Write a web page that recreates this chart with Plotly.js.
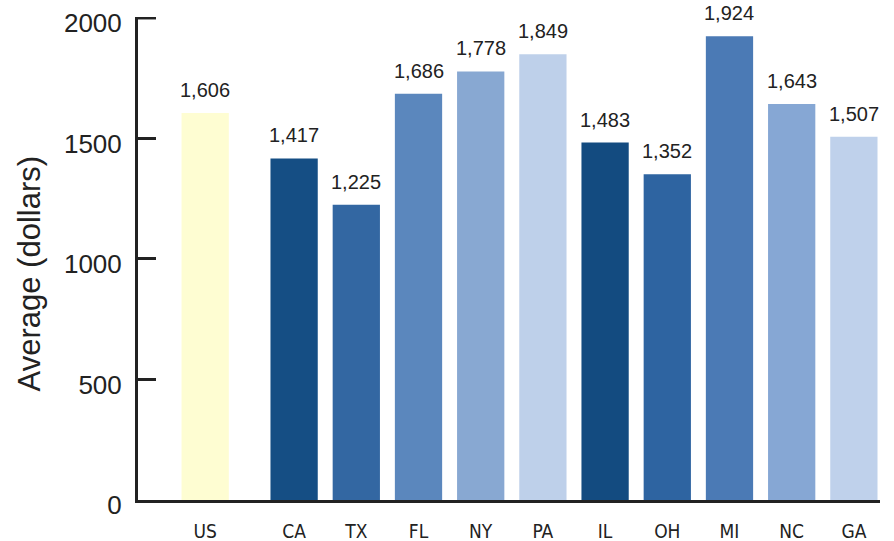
<!DOCTYPE html>
<html>
<head>
<meta charset="utf-8">
<script src="https://cdn.plot.ly/plotly-3.0.1.min.js"></script>
<style>html,body{margin:0;padding:0;background:#fff;}#chart{width:894px;height:541px;}</style>
</head>
<body>
<div id="chart"></div>
<script>
const categories = ["US", "CA", "TX", "FL", "NY", "PA", "IL", "OH", "MI", "NC", "GA"];
const averages = [1606, 1417, 1225, 1686, 1778, 1849, 1483, 1352, 1924, 1643, 1507];
const barColors = ["#fefdd2", "#154e84", "#3367a2", "#5b87bd", "#88a8d2", "#bed0ea",
                   "#134b80", "#2e64a1", "#4b7ab5", "#86a7d4", "#bfd1eb"];
const yTicks = [0, 500, 1000, 1500, 2000];
const yTitle = "Average (dollars)";

// layout: extra gap after the US bar
const GAP = 0.43;
const xPos = categories.map((c, i) => i === 0 ? 0 : i + GAP);
const fmt = v => v.toLocaleString("en-US");
const yMax = yTicks[yTicks.length - 1];

const trace = {
  type: "bar",
  x: xPos,
  y: averages,
  width: 0.76,
  marker: {color: barColors, line: {width: 0}},
  hoverinfo: "skip"
};

const valueLabels = averages.map((v, i) => ({
  x: xPos[i], y: v, xref: "x", yref: "y",
  text: fmt(v), showarrow: false,
  xanchor: "center", yanchor: "bottom", yshift: 10,
  font: {family: "Liberation Sans, Arial, sans-serif", size: 20, color: "#222"}
}));

const layout = {
  width: 894, height: 541,
  margin: {l: 138, r: 14, t: 17, b: 41},
  paper_bgcolor: "#fff", plot_bgcolor: "#fff",
  showlegend: false,
  xaxis: {
    range: [-1.08, 10.85],
    tickvals: xPos,
    ticktext: categories,
    showgrid: false, zeroline: false,
    showline: true, linecolor: "#222", linewidth: 3,
    ticks: "",
    ticklabelstandoff: 12,
    tickfont: {family: "DejaVu Sans Condensed, Liberation Sans Narrow, sans-serif", size: 19, color: "#222"}
  },
  yaxis: {
    range: [0, 2004],
    tickvals: yTicks,
    ticktext: yTicks.map(String),
    showgrid: false, zeroline: false,
    showline: true, linecolor: "#222", linewidth: 3,
    ticks: "inside", ticklen: 18, tickwidth: 3, tickcolor: "#222",
    ticklabelstandoff: 8,
    ticklabelshift: 5,
    tickfont: {family: "Liberation Sans, Arial, sans-serif", size: 26, color: "#222"}
  },
  shapes: [{
    // top tick mark of the y axis (Plotly hides the edge tick)
    type: "line", xref: "paper", yref: "y",
    xsizemode: "pixel", xanchor: 0, x0: -1, x1: 18,
    y0: yMax, y1: yMax,
    line: {color: "#222", width: 3}
  }],
  annotations: valueLabels.concat([{
    xref: "paper", yref: "paper", x: 0, xshift: -109, y: 0.467,
    xanchor: "center", yanchor: "middle", textangle: -90,
    text: yTitle, showarrow: false,
    font: {family: "Liberation Sans, Arial, sans-serif", size: 31, color: "#222"}
  }])
};

Plotly.newPlot("chart", [trace], layout, {displayModeBar: false, staticPlot: true});
</script>
</body>
</html>
